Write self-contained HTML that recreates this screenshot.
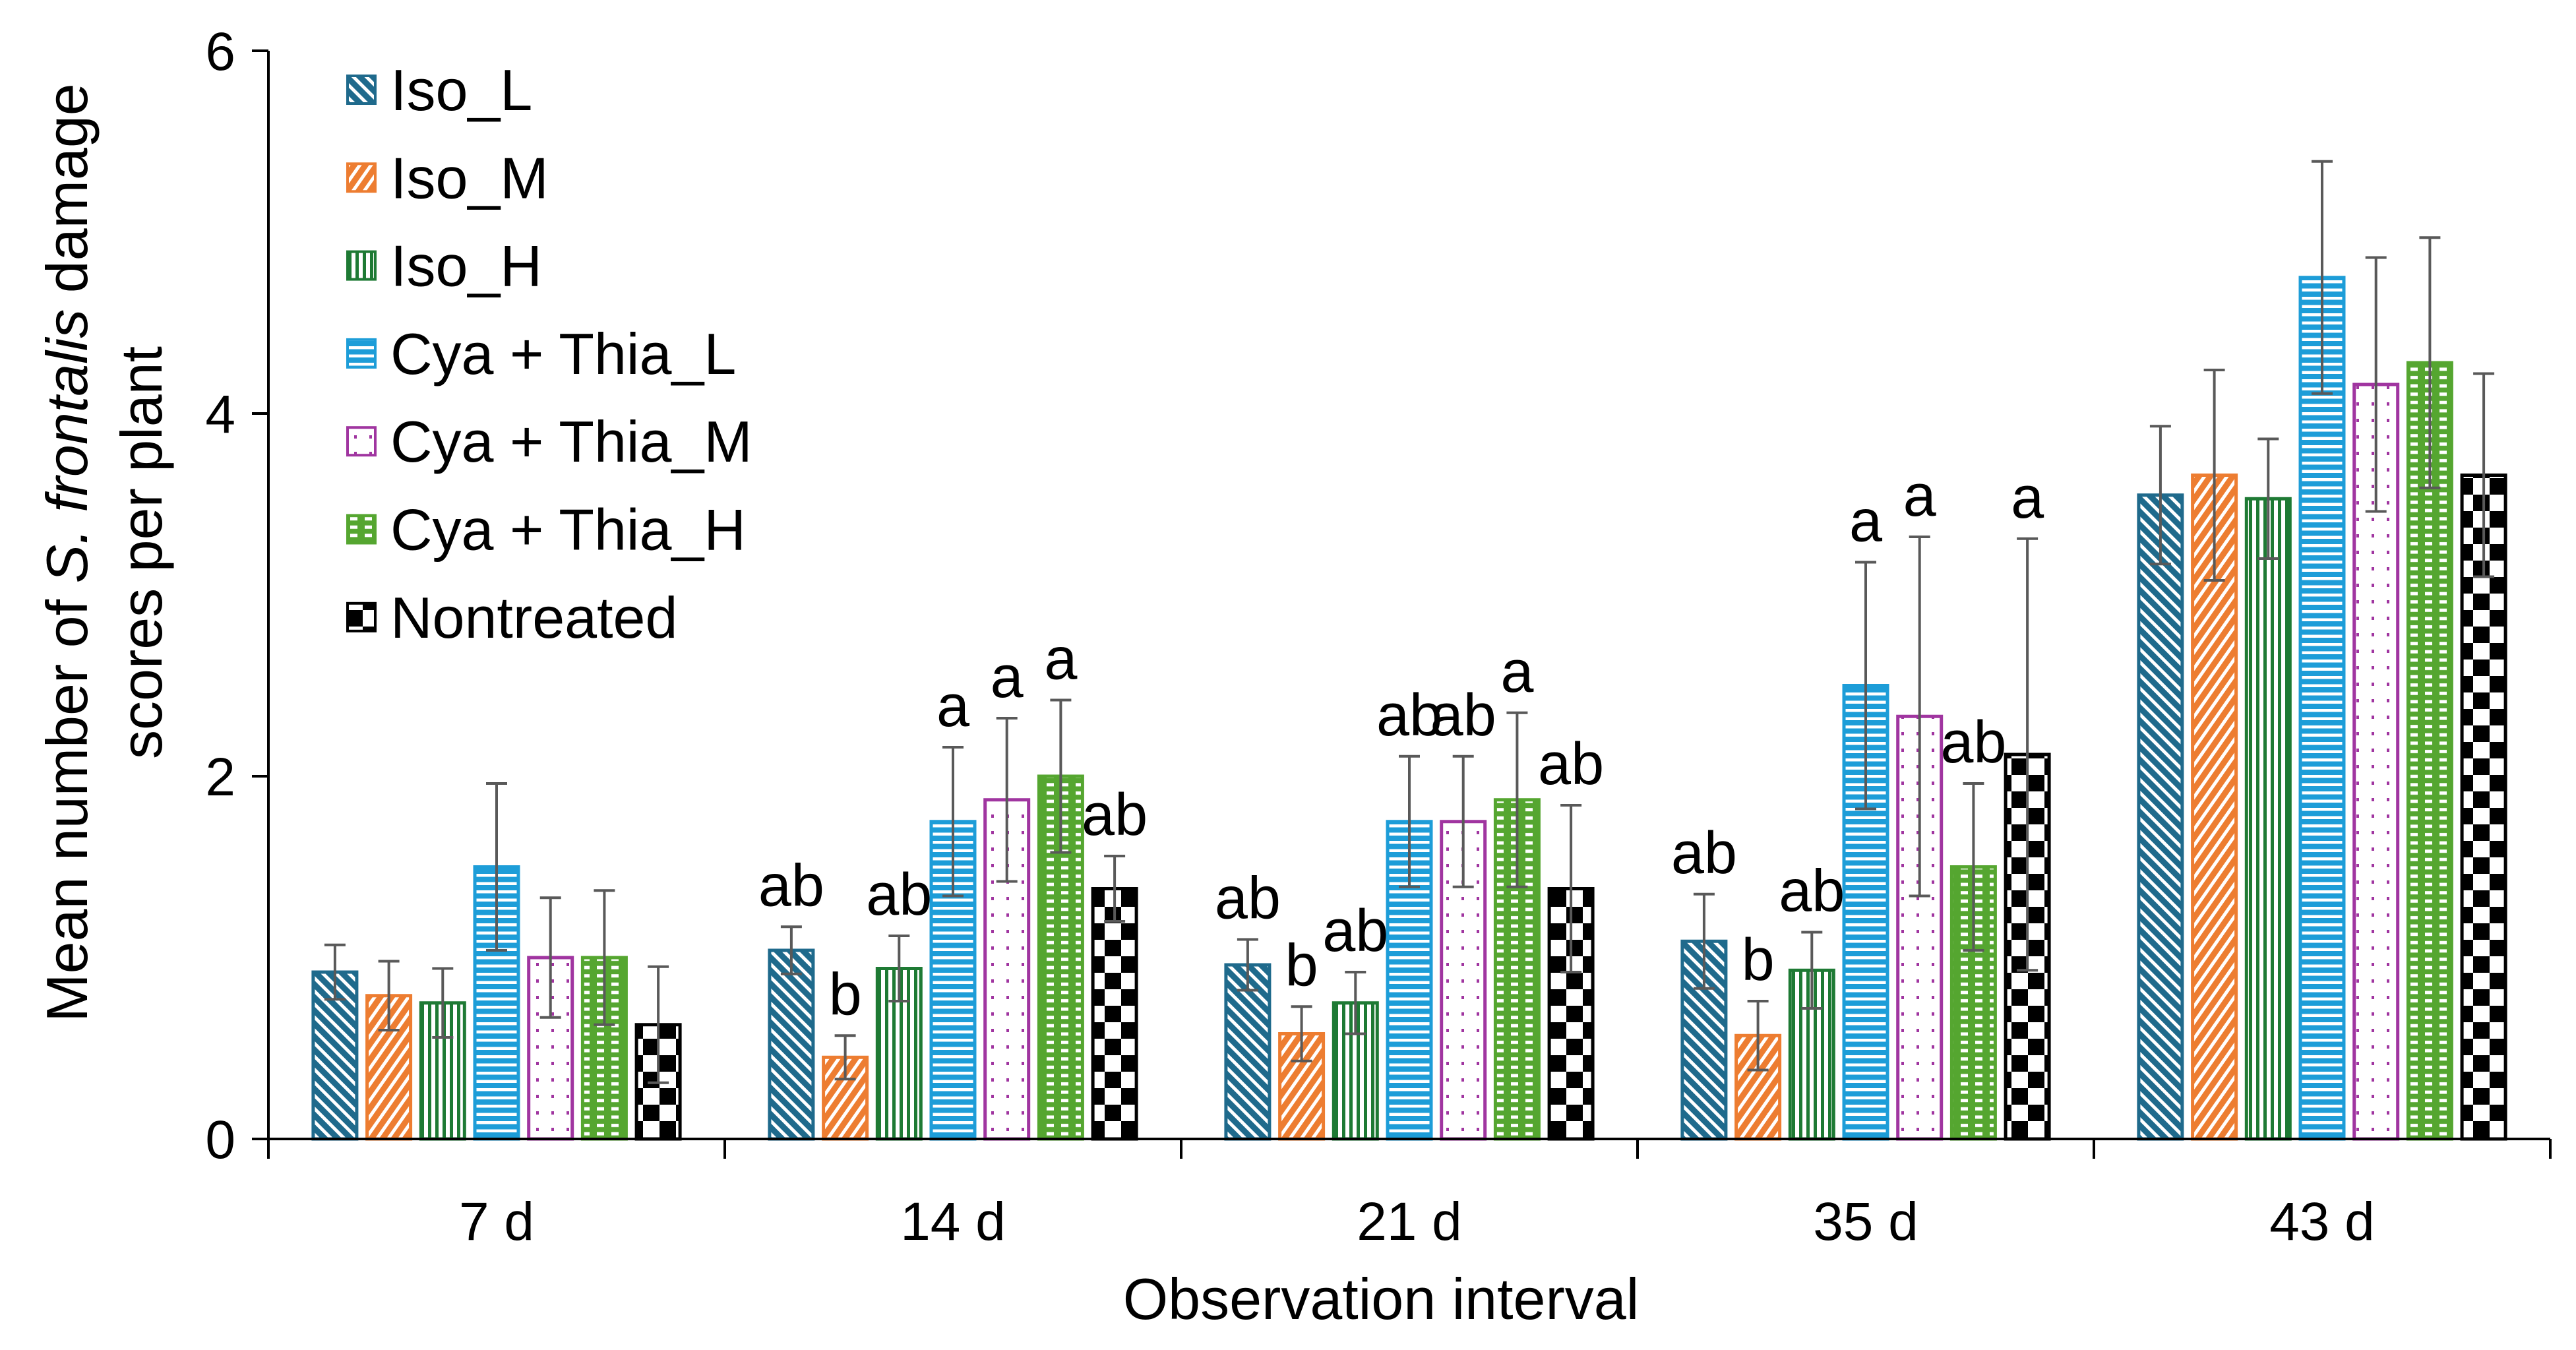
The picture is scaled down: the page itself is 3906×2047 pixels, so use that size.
<!DOCTYPE html>
<html><head><meta charset="utf-8"><style>
html,body{margin:0;padding:0;background:#fff;}
svg{display:block;font-family:"Liberation Sans",Arial,sans-serif;}
</style></head><body>
<svg id="chart" width="3906" height="2047" viewBox="0 0 3906 2047" xmlns="http://www.w3.org/2000/svg">
<defs>
<pattern id="p0" patternUnits="userSpaceOnUse" width="14" height="14" patternTransform="rotate(-45)"><rect width="14" height="14" fill="#1f6a8c"/><rect x="0" y="0" width="5" height="14" fill="#fff"/></pattern>
<pattern id="p1" patternUnits="userSpaceOnUse" width="14" height="14" patternTransform="rotate(35)"><rect width="14" height="14" fill="#ed7d31"/><rect x="0" y="0" width="5" height="14" fill="#fff"/></pattern>
<pattern id="p2" patternUnits="userSpaceOnUse" width="11" height="11"><rect width="11" height="11" fill="#fff"/><rect x="0" y="0" width="5" height="11" fill="#1e7a34"/></pattern>
<pattern id="p3" patternUnits="userSpaceOnUse" width="12.5" height="12.5"><rect width="12.5" height="12.5" fill="#1d9dd8"/><rect x="0" y="0" width="12.5" height="4.5" fill="#fff"/></pattern>
<pattern id="p4" patternUnits="userSpaceOnUse" width="23" height="25"><rect width="23" height="25" fill="#fff"/><rect x="8" y="10" width="4" height="5" fill="#a035a0"/></pattern>
<pattern id="p5" patternUnits="userSpaceOnUse" width="22" height="12.6"><rect width="22" height="12.6" fill="#55a630"/><rect x="3" y="3" width="11" height="5" fill="#fff"/></pattern>
<pattern id="p6" patternUnits="userSpaceOnUse" width="50" height="50"><rect width="50" height="50" fill="#fff"/><rect x="0" y="0" width="25" height="25" fill="#000"/><rect x="25" y="25" width="25" height="25" fill="#000"/></pattern>
</defs>
<g id="plot"></g>
</svg>
<script>
const categories = ["7 d","14 d","21 d","35 d","43 d"];
const seriesNames = ["Iso_L","Iso_M","Iso_H","Cya + Thia_L","Cya + Thia_M","Cya + Thia_H","Nontreated"];
const isoL = [0.92,1.04,0.96,1.09,3.55];
const isoM = [0.79,0.45,0.58,0.57,3.66];
const isoH = [0.75,0.94,0.75,0.93,3.53];
const cyaL = [1.50,1.75,1.75,2.50,4.75];
const cyaM = [1.00,1.87,1.75,2.33,4.16];
const cyaH = [1.00,2.00,1.87,1.50,4.28];
const nontr = [0.63,1.38,1.38,2.12,3.66];
const errIsoL = [0.15,0.13,0.14,0.26,0.38];
const errIsoM = [0.19,0.12,0.15,0.19,0.58];
const errIsoH = [0.19,0.18,0.17,0.21,0.33];
const errCyaL = [0.46,0.41,0.36,0.68,0.64];
const errCyaM = [0.33,0.45,0.36,0.99,0.70];
const errCyaH = [0.37,0.42,0.48,0.46,0.69];
const errNontr = [0.32,0.18,0.46,1.19,0.56];
const letters14 = ["ab","b","ab","a","a","a","ab"];
const letters21 = ["ab","b","ab","ab","ab","a","ab"];
const letters35 = ["ab","b","ab","a","a","ab","a"];
const yTicks = [0,2,4,6];

const series = [isoL,isoM,isoH,cyaL,cyaM,cyaH,nontr];
const errs = [errIsoL,errIsoM,errIsoH,errCyaL,errCyaM,errCyaH,errNontr];
const letters = [null,letters14,letters21,letters35,null];
const colors = ["#1f6a8c","#ed7d31","#1e7a34","#1d9dd8","#a035a0","#55a630","#000"];
const NS="http://www.w3.org/2000/svg";
const g=document.getElementById('plot');
const X0=407, X1=3867, Y0=1727, Y1=77, YMAX=6;
const catW=(X1-X0)/categories.length, step=81.7, barW=66;
function y(v){return Y0-(v/YMAX)*(Y0-Y1);}
function xc(ci,si){return X0+catW*(ci+0.5)+(si-3)*step;}
function mk(tag,attrs,parent){const e=document.createElementNS(NS,tag);for(const k in attrs)e.setAttribute(k,attrs[k]);(parent||g).appendChild(e);return e;}

series.forEach((vals,si)=>{vals.forEach((v,ci)=>{
  const r=mk('rect',{x:xc(ci,si)-barW/2,y:y(v),width:barW,height:Y0-y(v),fill:`url(#p${si})`,stroke:colors[si],'stroke-width':5});
  
  
});});
series.forEach((vals,si)=>{vals.forEach((v,ci)=>{
  const e=errs[si][ci], cx=xc(ci,si);
  const eg=mk('g',{stroke:'#595959','stroke-width':4});
  
  
  mk('line',{x1:cx,x2:cx,y1:y(v-e),y2:y(v+e)},eg);
  mk('line',{x1:cx-16,x2:cx+16,y1:y(v+e),y2:y(v+e)},eg);
  mk('line',{x1:cx-16,x2:cx+16,y1:y(v-e),y2:y(v-e)},eg);
  const L=letters[ci];
  if(L){const t=mk('text',{x:cx,y:y(v+e)-32,'text-anchor':'middle','font-size':90,fill:'#000'});t.textContent=L[si];
    
    }
});});
const ax=mk('g',{stroke:'#000','stroke-width':4});


mk('line',{x1:X0,x2:X0,y1:Y1,y2:Y0},ax);
mk('line',{x1:X0,x2:X1,y1:Y0,y2:Y0},ax);
yTicks.forEach(v=>{
  mk('line',{x1:X0-25,x2:X0,y1:y(v),y2:y(v)},ax);
  const t=mk('text',{x:X0-50,y:y(v)+29,'text-anchor':'end','font-size':82,fill:'#000'});t.textContent=v;
  
  
});
for(let i=0;i<=categories.length;i++){mk('line',{x1:X0+catW*i,x2:X0+catW*i,y1:Y0,y2:Y0+30},ax);}
categories.forEach((c,ci)=>{
  const t=mk('text',{x:X0+catW*(ci+0.5),y:1880,'text-anchor':'middle','font-size':82,fill:'#000'});t.textContent=c;
  
  
});
seriesNames.forEach((n,si)=>{
  const cy=137+si*133.3;
  const lg=mk('g',{});
  
  
  mk('rect',{x:527,y:cy-22,width:42,height:42,fill:`url(#p${si})`,stroke:colors[si],'stroke-width':4},lg);
  const t=mk('text',{x:592,y:cy+30,'font-size':88,fill:'#000'},lg);t.textContent=n;
});
</script>
<svg style="position:absolute;left:0;top:0" width="3906" height="2047">
<text transform="translate(132,838) rotate(-90)" text-anchor="middle" font-size="88" font-family="Liberation Sans, sans-serif">Mean number of <tspan font-style="italic">S. frontalis</tspan> damage</text>
<text transform="translate(245,838) rotate(-90)" text-anchor="middle" font-size="88" font-family="Liberation Sans, sans-serif">scores per plant</text>
<text x="2094" y="2000" text-anchor="middle" font-size="88" font-family="Liberation Sans, sans-serif">Observation interval</text>
</svg>
</body></html>
